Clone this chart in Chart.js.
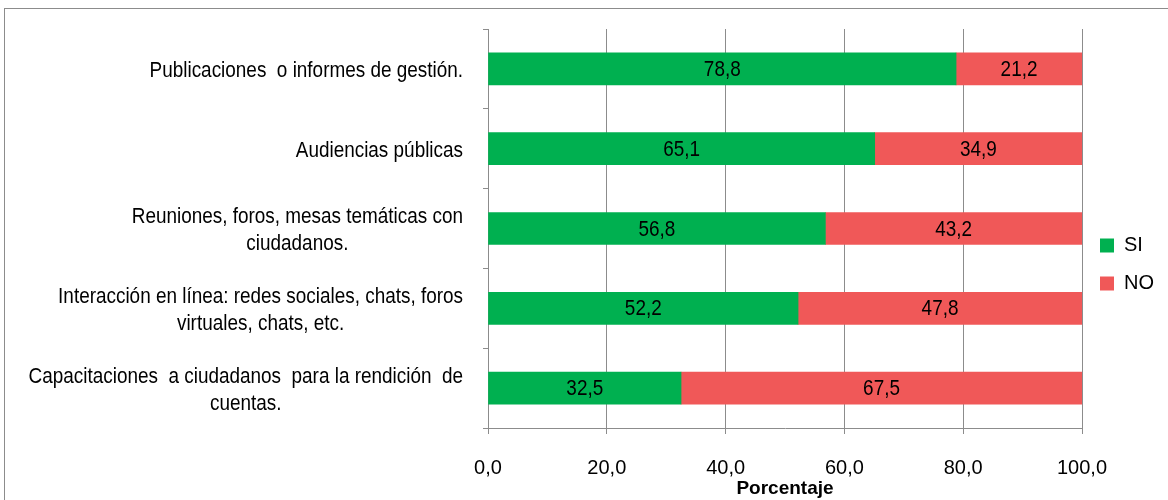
<!DOCTYPE html>
<html>
<head>
<meta charset="utf-8">
<script src="https://cdn.jsdelivr.net/npm/chart.js@4/dist/chart.umd.min.js"></script>
<style>
html, body { margin: 0; padding: 0; background: #fff; overflow: hidden; }
#wrap { position: relative; width: 1168px; height: 500px; }
#frame { position: absolute; left: 4px; top: 8px; width: 1300px; height: 700px; border: 1px solid #8c8c8c; }
#chart { position: absolute; left: 0; top: 0; }
</style>
</head>
<body>
<div id="wrap">
  <div id="frame"></div>
  <canvas id="chart" width="1168" height="500"></canvas>
</div>
<script>
// data //
//////////
var categories = [
    ["Publicaciones  o informes de gestión."],
    ["Audiencias públicas"],
    ["Reuniones, foros, mesas temáticas con", "ciudadanos."],
    ["Interacción en línea: redes sociales, chats, foros", "virtuales, chats, etc."],
    ["Capacitaciones  a ciudadanos  para la rendición  de", "cuentas."]
]
var siValues = [78.8, 65.1, 56.8, 52.2, 32.5]
var noValues = [21.2, 34.9, 43.2, 47.8, 67.5]
var seriesNames = ["SI", "NO"]
var xMin = 0, xMax = 100, xStep = 20

var fontFamily = "'Liberation Sans', Arial, sans-serif"
var gridColor = "#8c8c8c"
var squeeze = 0.86   // no narrow font here, so squeeze the text by hand

Chart.defaults.font.family = fontFamily
Chart.defaults.font.size = 20
Chart.defaults.color = "#000"

function fmt(v) {
    return v.toFixed(1).replace(".", ",")
}

function narrowText(ctx, text, x, y) {
    ctx.save()
    ctx.translate(x, y)
    ctx.scale(squeeze, 1)
    ctx.fillText(text, 0, 0)
    ctx.restore()
}

// value labels in the middle of each bar
var barLabels = {
    id: "barLabels",
    afterDatasetsDraw(chart) {
        var ctx = chart.ctx
        ctx.save()
        ctx.font = "22px " + fontFamily
        ctx.fillStyle = "#000"
        ctx.textAlign = "center"
        ctx.textBaseline = "middle"
        chart.data.datasets.forEach(function (ds, i) {
            chart.getDatasetMeta(i).data.forEach(function (bar, j) {
                narrowText(ctx, fmt(ds.data[j]), (bar.x + bar.base) / 2, bar.y + 1)
            })
        })
        ctx.restore()
    }
}

// category labels: each block right aligned, lines centred inside it
var catLabels = {
    id: "catLabels",
    afterDraw(chart) {
        var ctx = chart.ctx
        var y = chart.scales.y
        var lineH = 27
        ctx.save()
        ctx.font = "22px " + fontFamily
        ctx.fillStyle = "#000"
        ctx.textAlign = "center"
        ctx.textBaseline = "middle"
        categories.forEach(function (lines, i) {
            var w = squeeze * Math.max.apply(null, lines.map(function (l) { return ctx.measureText(l).width }))
            var cx = chart.chartArea.left - 25 - w / 2
            var cy = y.getPixelForTick(i) + 2 - (lines.length - 1) * lineH / 2
            lines.forEach(function (l, k) {
                narrowText(ctx, l, cx, cy + k * lineH)
            })
        })
        ctx.restore()
    }
}

var chart = new Chart(document.getElementById("chart"), {
    type: "bar",
    data: {
        labels: categories,
        datasets: [
            {
                label: seriesNames[0],
                data: siValues,
                backgroundColor: "#00b050",
                barThickness: 32
            },
            {
                label: seriesNames[1],
                data: noValues,
                backgroundColor: "#f05858",
                barThickness: 32
            }
        ]
    },
    options: {
        indexAxis: "y",
        responsive: false,
        animation: false,
        layout: {
            padding: { top: 29, right: 4, left: 0, bottom: 0 }
        },
        scales: {
            x: {
                stacked: true,
                min: xMin,
                max: xMax,
                ticks: {
                    stepSize: xStep,
                    padding: 22,
                    color: "#000",
                    font: { size: 20 },
                    callback: function (v) { return fmt(v) }
                },
                grid: { color: gridColor, tickLength: 6 },
                border: { color: gridColor },
                title: {
                    display: true,
                    text: "Porcentaje",
                    font: { weight: "bold", size: 19 },
                    padding: { top: 0, bottom: 0 }
                },
                afterFit: function (s) { s.height = 72 }
            },
            y: {
                stacked: true,
                ticks: { color: "rgba(0,0,0,0)" },
                grid: { drawOnChartArea: false, color: gridColor, tickLength: 5, offset: true },
                border: { color: gridColor },
                afterFit: function (s) { s.width = 488 }
            }
        },
        plugins: {
            legend: {
                display: true,
                position: "right",
                labels: {
                    boxWidth: 14,
                    boxHeight: 14,
                    padding: 18,
                    color: "#000",
                    font: { size: 20 }
                }
            },
            tooltip: { enabled: false }
        }
    },
    plugins: [barLabels, catLabels]
})
</script>
</body>
</html>
